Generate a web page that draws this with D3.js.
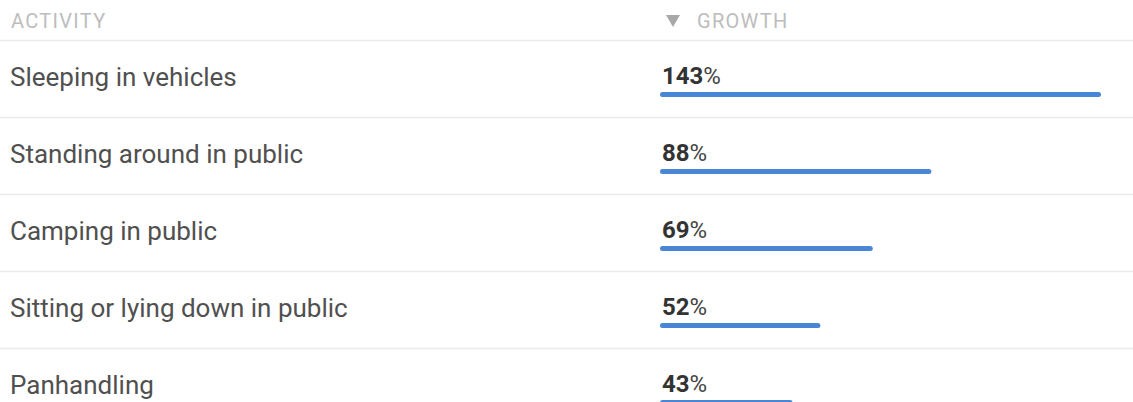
<!DOCTYPE html>
<html>
<head>
<meta charset="utf-8">
<script src="https://cdn.jsdelivr.net/npm/d3@7"></script>
<style>
  html, body { margin: 0; padding: 0; background: #fff; overflow: hidden; }
  svg { display: block; font-family: Roboto, "Noto Sans", sans-serif; }
</style>
</head>
<body>
<div id="chart"></div>
<script>
const activities = [
    'Sleeping in vehicles',
    'Standing around in public',
    'Camping in public',
    'Sitting or lying down in public',
    'Panhandling'
];
const growth = [143, 88, 69, 52, 43];
const headers = ['ACTIVITY', 'GROWTH'];

const width = 1133, height = 402;
const headerLine = 39.5;
const rowH = 77;
const barX0 = 660;

const svg = d3.select('#chart')
    .append('svg')
    .attr('width', width)
    .attr('height', height);

const x = d3.scaleLinear()
    .domain([0, d3.max(growth)])
    .range([0, 441]);

const y = d3.scaleBand()
    .domain(activities)
    .range([headerLine, headerLine + rowH * activities.length]);

// header
svg.append('text')
    .attr('x', 11).attr('y', 28)
    .style('font-size', '20px')
    .style('letter-spacing', '1.3px')
    .style('fill', '#bdbdbd')
    .text(headers[0]);

// sort arrow
svg.append('path')
    .attr('d', d3.symbol(d3.symbolTriangle, 85)())
    .attr('transform', 'translate(673,19) rotate(180)')
    .style('fill', '#a8a8a8');

svg.append('text')
    .attr('x', 697).attr('y', 28)
    .style('font-size', '20px')
    .style('letter-spacing', '1.3px')
    .style('fill', '#bdbdbd')
    .text(headers[1]);

// divider lines
const lines = [headerLine].concat(activities.slice(0, -1).map(d => y(d) + rowH));
svg.selectAll('.divider')
    .data(lines)
    .enter()
    .append('line')
    .attr('class', 'divider')
    .attr('x1', 0).attr('x2', width)
    .attr('y1', d => Math.round(d) + 0.5)
    .attr('y2', d => Math.round(d) + 0.5)
    .style('stroke', '#ebebeb')
    .style('stroke-width', 1.5);

const rows = svg.selectAll('.row')
    .data(activities.map((a, i) => ({ name: a, value: growth[i] })))
    .enter()
    .append('g')
    .attr('class', 'row')
    .attr('transform', d => `translate(0,${y(d.name)})`);

rows.append('text')
    .attr('x', 10)
    .attr('y', 46)
    .style('font-size', '26px')
    .style('fill', '#505050')
    .text(d => d.name);

const val = rows.append('text')
    .attr('x', barX0 + 2)
    .attr('y', 44)
    .style('font-size', '24px')
    .style('fill', '#333');
val.append('tspan')
    .style('font-weight', 'bold')
    .text(d => d.value);
val.append('tspan')
    .style('fill', '#444')
    .text('%');

rows.append('line')
    .attr('x1', barX0 + 2.5)
    .attr('x2', d => barX0 + x(d.value) - 2.5)
    .attr('y1', 55)
    .attr('y2', 55)
    .style('stroke', '#4a86d6')
    .style('stroke-width', 5)
    .style('stroke-linecap', 'round');
</script>
</body>
</html>
